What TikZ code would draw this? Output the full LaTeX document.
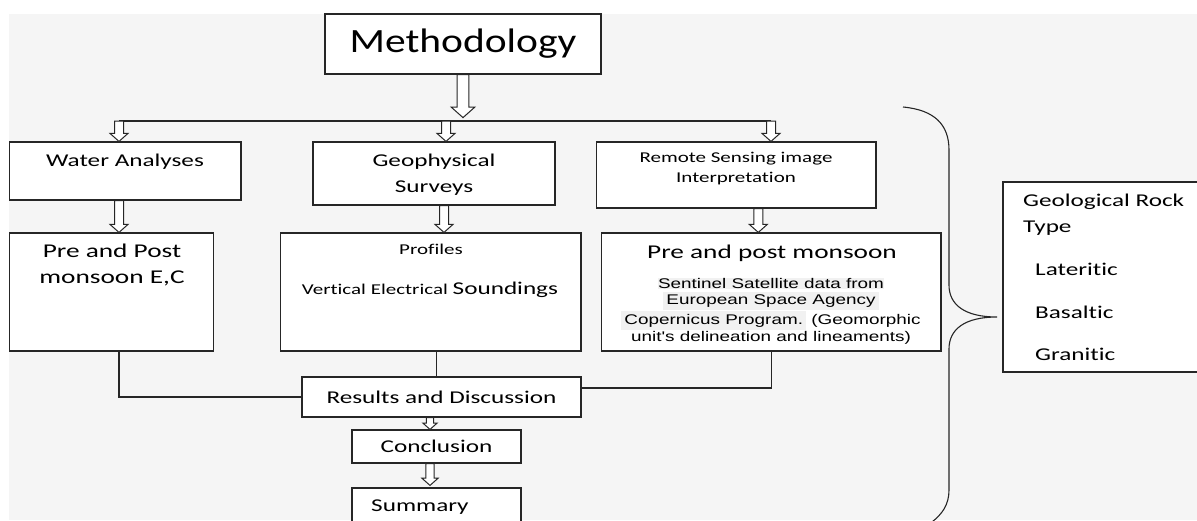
\documentclass[tikz,border=0pt]{standalone}
\usepackage{fontspec}
\setmainfont{Carlito}[FakeStretch=1.4, Ligatures=NoCommon]
\newfontfamily\methfont{Carlito}[FakeStretch=1.22, Ligatures=NoCommon]
\newfontfamily\arialfont{Liberation Sans}[FakeStretch=1.35]
\usetikzlibrary{calc, positioning}

\definecolor{bg}{RGB}{245,245,245}
\definecolor{hl}{RGB}{241,241,241}

\tikzset{
  box/.style={draw=black!85, line width=1.2pt, fill=white, inner sep=0pt},
  txt/.style={inner sep=0pt, align=center},
  body/.style={font=\fontsize{18}{26}\selectfont},
  small/.style={font=\fontsize{15}{20}\selectfont},
  link/.style={draw=black!85, line width=1.2pt},
  hollow/.style={draw=black!85, line width=1pt, fill=white, line join=miter},
}

% outlined down arrow from #2 to #3, #1 = size factor
\newcommand{\hollowarrow}[3][1]{%
  \draw[hollow] let \p1=#2, \p2=#3 in
    (\x1-4.5pt*#1,\y1) -- (\x1-4.5pt*#1,\y2+8pt*#1) -- (\x1-9pt*#1,\y2+8pt*#1)
    -- (\x1,\y2) -- (\x1+9pt*#1,\y2+8pt*#1) -- (\x1+4.5pt*#1,\y2+8pt*#1)
    -- (\x1+4.5pt*#1,\y1) -- cycle;}

\begin{document}
\begin{tikzpicture}[x=1pt, y=-1pt]
  \useasboundingbox (0,0) rectangle (1197,520);
  \fill[bg] (9,14) rectangle (1197,520);

  % boxes
  \node[box, minimum width=276pt, minimum height=60pt] (meth) at (463,44)
    {\methfont\fontsize{34}{40}\selectfont Methodology};
  \node[box, minimum width=231.4pt, minimum height=58pt] (wabox) at (125.3,171) {};
  \node[box, minimum width=242pt, minimum height=63pt] (geobox) at (434,173.5) {};
  \node[box, minimum width=279.5pt, minimum height=66pt] (rsbox) at (736.3,175) {};
  \node[box, minimum width=204pt, minimum height=118pt] (prebox) at (111.5,292) {};
  \node[box, minimum width=300.5pt, minimum height=118pt] (profbox) at (430.8,292) {};
  \node[box, minimum width=339.4pt, minimum height=118pt] (rmbox) at (771.3,292) {};
  \node[box, body, minimum width=279pt, minimum height=40pt] (res) at (441.5,397)
    {Results and Discussion};
  \node[box, body, minimum width=169pt, minimum height=33pt] (con) at (436.5,446.5)
    {Conclusion};
  \node[box, minimum width=169pt, minimum height=40pt] (sumbox) at (436.5,508) {};
  \node[box, minimum width=207pt, minimum height=190pt] (geol) at (1106.5,277) {};

  % texts
  \node[txt, body] (watxt) at (125,162) {Water Analyses};
  \node[txt, body] (geotxt) at (434,175) {Geophysical\\Surveys};
  \node[txt, small] (rstxt) at (736,169) {Remote Sensing image\\Interpretation};
  \node[txt, font=\fontsize{19.5}{26}\selectfont] (pretxt) at (112,265)
    {Pre and Post\\monsoon E,C};
  \node[txt, small] (proftxt) at (431,249) {Profiles};
  \node[txt, small] (vestxt) at (430,290)
    {Vertical Electrical {\fontsize{18}{22}\selectfont Soundings}};
  \node[txt, font=\fontsize{19.5}{26}\selectfont] (rmtxt) at (772,253)
    {Pre and post monsoon};
  \node[txt, font=\arialfont\fontsize{14}{16}\selectfont] (sattxt) at (771,311)
    {\fboxsep=0.5pt\colorbox{hl}{Sentinel Satellite data from}\\
     \colorbox{hl}{European Space Agency}\\
     \colorbox{hl}{Copernicus Program.} (Geomorphic\\
     unit's delineation and lineaments)};
  \node[txt, body, anchor=west] (sumtxt) at (371,507) {Summary};
  \node[txt, body, align=left, anchor=west] (geoltxt) at (1023,215)
    {Geological Rock\\Type};
  \node[txt, body, anchor=west] (lat) at (1035,269) {Lateritic};
  \node[txt, body, anchor=west] (bas) at (1035,312) {Basaltic};
  \node[txt, body, anchor=west] (gra) at (1035,354) {Granitic};

  % bus and arrows
  \coordinate (bus1) at (119,121);
  \coordinate (bus2) at (446,121);
  \coordinate (bus3) at (771,121);
  \draw[link] (bus1) -- (bus3);
  \hollowarrow[1.3]{(meth.south)}{($(meth.south)+(0,43)$)}
  \hollowarrow{(bus1)}{(bus1 |- wabox.north)}
  \hollowarrow{(bus2)}{(bus2 |- geobox.north)}
  \hollowarrow{(bus3)}{(bus3 |- rsbox.north)}
  \hollowarrow{(bus1 |- wabox.south)}{(bus1 |- prebox.north)}
  \hollowarrow{([xshift=10pt]geobox.south)}{([xshift=10pt]geobox.south |- profbox.north)}
  \hollowarrow{([xshift=22pt]rsbox.south)}{([xshift=22pt]rsbox.south |- rmbox.north)}
  \hollowarrow[0.8]{([xshift=-6.5pt]con.north |- res.south)}{([xshift=-6.5pt]con.north)}
  \hollowarrow[0.9]{([xshift=-6.5pt]con.south)}{([xshift=-6.5pt,yshift=2pt]con.south |- sumbox.north)}

  % links to results
  \draw[link] ([xshift=7.5pt]prebox.south) |- (res.west);
  \draw[link] ([xshift=6pt]profbox.south) -- ([xshift=6pt]profbox.south |- res.north);
  \draw[link] (rmbox.south) |- ([yshift=9pt]res.east);

  % brace
  \draw[link, line width=1.1pt] (903,107) .. controls (935,110) and (949,125) .. (949,150)
    -- (949,285) .. controls (949,305) and (965,317) .. (997,317)
    .. controls (965,317) and (949,329) .. (949,349)
    -- (949,490) .. controls (949,505) and (942,514) .. (932,522);
\end{tikzpicture}
\end{document}
